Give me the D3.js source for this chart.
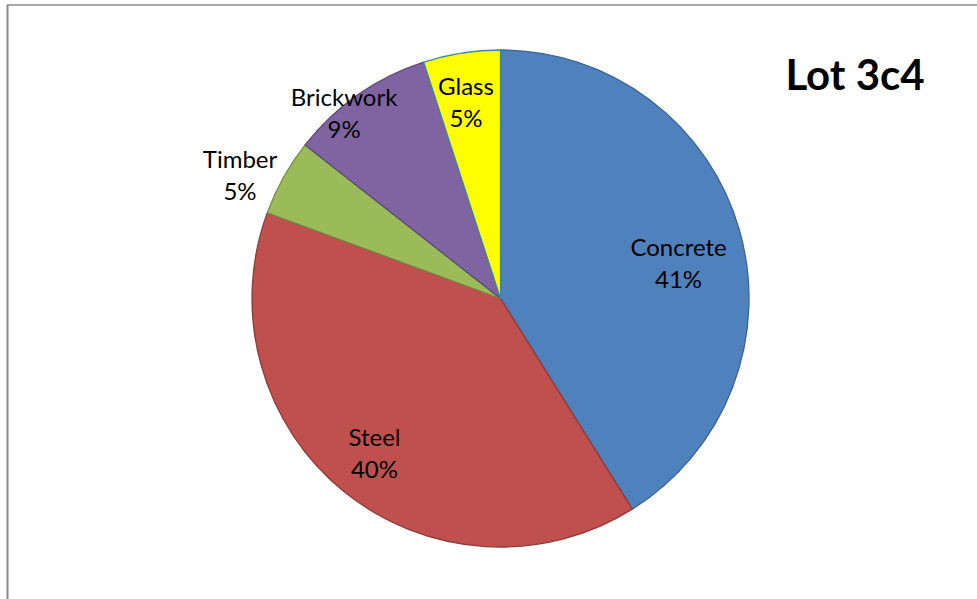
<!DOCTYPE html>
<html>
<head>
<meta charset="utf-8">
<script src="https://cdn.jsdelivr.net/npm/d3@7"></script>
<style>
  html, body { margin: 0; padding: 0; background: #fff; }
  svg { display: block; }
  text { font-family: Lato, "Open Sans", sans-serif; fill: #000; }
</style>
</head>
<body>
<svg id="chart" width="977" height="599"></svg>
<script>
// Material shares for Lot 3c4 (percent)
const categories = ["Concrete", "Steel", "Timber", "Brickwork", "Glass"];
const shares = [41.1, 39.5, 5.0, 9.4, 5.0];
const title = "Lot 3c4";

// Slice styling
const fills = ["#4F81BD", "#C0504D", "#9BBB59", "#8064A2", "#FFFF00"];
const strokes = ["#3A6396", "#8E3B39", "#748C43", "#5E4A78", "#3C8AA6"];
// Label placement: radius as a fraction of the pie radius, angular nudge in degrees
const labelLayout = [
  { r: 0.73, da: 5 },
  { r: 0.805, da: 0 },
  { r: 1.16, da: -3.8 },
  { r: 0.975, da: -5.3 },
  { r: 0.80, da: -1 }
];

const W = 977, H = 599;
const cx = 500.5, cy = 298.5, R = 248.5;

const svg = d3.select("#chart");

// chart frame (top and left edges visible)
svg.append("line").attr("x1", 7).attr("x2", W).attr("y1", 5).attr("y2", 5)
  .attr("stroke", "#8a8a8a").attr("stroke-width", 1.5);
svg.append("line").attr("x1", 7.5).attr("x2", 7.5).attr("y1", 5).attr("y2", H)
  .attr("stroke", "#8a8a8a").attr("stroke-width", 2);

const data = categories.map((c, i) => ({ name: c, value: shares[i], i }));
const total = d3.sum(shares);

const pie = d3.pie().value(d => d.value).sort(null);
const arcs = pie(data);
const arc = d3.arc().innerRadius(0).outerRadius(R);

const g = svg.append("g").attr("transform", `translate(${cx},${cy})`);

g.selectAll("path.slice")
  .data(arcs)
  .join("path")
  .attr("class", "slice")
  .attr("d", arc)
  .attr("fill", d => fills[d.data.i])
  .attr("stroke", d => strokes[d.data.i])
  .attr("stroke-width", 1.3)
  .attr("stroke-linejoin", "round");

// data labels: name and rounded percentage
const labels = g.selectAll("text.lbl")
  .data(arcs)
  .join("text")
  .attr("class", "lbl")
  .attr("text-anchor", "middle")
  .style("font-size", "24px")
  .attr("transform", d => {
    const L = labelLayout[d.data.i];
    const a = (d.startAngle + d.endAngle) / 2 + L.da * Math.PI / 180;
    const rr = L.r * R;
    return `translate(${rr * Math.sin(a)},${-rr * Math.cos(a)})`;
  });

labels.append("tspan").attr("x", 0).attr("y", -7.5).text(d => d.data.name);
labels.append("tspan").attr("x", 0).attr("y", 24.5)
  .text(d => Math.round(d.data.value / total * 100) + "%");

svg.append("text")
  .attr("x", 855).attr("y", 90)
  .attr("text-anchor", "middle")
  .style("font-size", "42px")
  .style("font-weight", "bold")
  .text(title);
</script>
</body>
</html>
